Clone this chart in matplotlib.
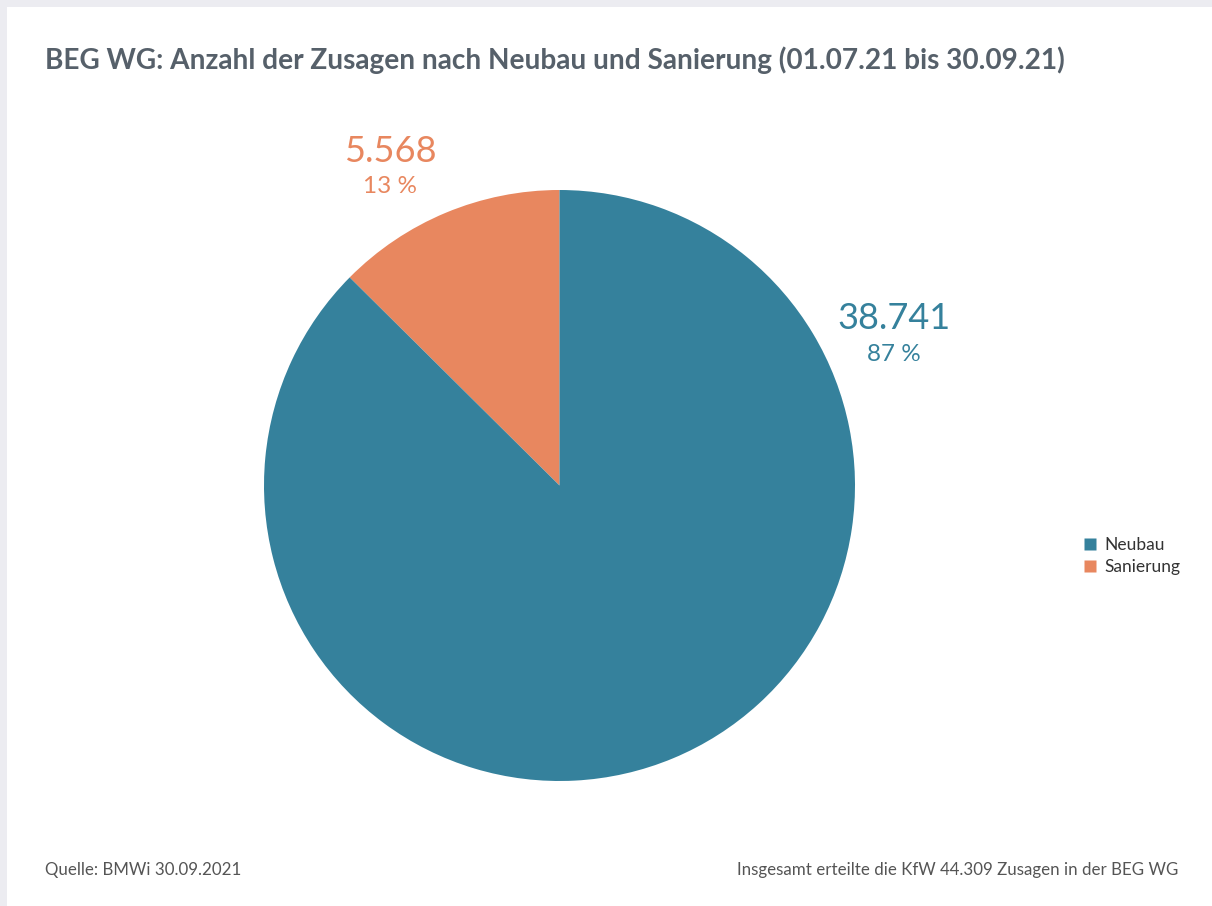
import matplotlib
matplotlib.use("Agg")
import matplotlib.pyplot as plt
from matplotlib.patches import Rectangle
from matplotlib.lines import Line2D

# data
categories = ["Neubau", "Sanierung"]
counts = [38741, 5568]
percent_labels = ["87 %", "13 %"]
count_labels = ["38.741", "5.568"]
colors = ["#35819c", "#e8875f"]

TITLE = "BEG WG: Anzahl der Zusagen nach Neubau und Sanierung (01.07.21 bis 30.09.21)"
SOURCE = "Quelle: BMWi 30.09.2021"
NOTE = "Insgesamt erteilte die KfW 44.309 Zusagen in der BEG WG"

plt.rcParams["font.family"] = ["Lato", "DejaVu Sans"]

W, H = 1212, 906
fig = plt.figure(figsize=(W / 100, H / 100), dpi=100)
fig.patch.set_facecolor("#ececf1")
fig.patches.append(Rectangle((7 / W, 0), 1, 1 - 7 / H, transform=fig.transFigure,
                             facecolor="white", edgecolor="none", zorder=-10))

# pie axes: circle from x 264..855, y 190..781 (pixels)
ax = fig.add_axes([264 / W, (H - 781) / H, 591 / W, 591 / H])
ax.set_facecolor("none")

# Sanierung first so it starts at 12 o'clock going to the upper left
order = [1, 0]
wedges, _ = ax.pie([counts[i] for i in order], colors=[colors[i] for i in order],
                   startangle=90, counterclock=True, radius=1,
                   wedgeprops=dict(linewidth=0))
ax.set_xlim(-1, 1)
ax.set_ylim(-1, 1)
ax.set_aspect("equal")
ax.axis("off")

# value labels
label_pos = {0: (1.132, 0.565, 0.445), 1: (-0.574, 1.129, 1.013)}
for i in range(len(categories)):
    x, y1, y2 = label_pos[i]
    ax.text(x, y1, count_labels[i], color=colors[i], fontsize=26, fontweight="normal",
            ha="center", va="center", clip_on=False)
    ax.text(x, y2, percent_labels[i], color=colors[i], fontsize=17.5, fontweight="normal",
            ha="center", va="center", clip_on=False)

fig.text(45 / W, 1 - 60 / H, TITLE, fontsize=20.2, fontweight="bold", color="#56606a",
         ha="left", va="center")

handles = [Line2D([], [], marker="s", linestyle="none", markersize=8,
                  markerfacecolor=c, markeredgecolor="none") for c in colors]
fig.legend(handles, categories, loc="center left", bbox_to_anchor=(1066 / W, 1 - 556 / H),
           frameon=False, fontsize=12.5, handletextpad=0.3, labelspacing=0.3,
           handlelength=1.0, labelcolor="#333333")

fig.text(45 / W, 1 - 870 / H, SOURCE, fontsize=12.2, color="#555555", ha="left", va="center")
fig.text(1178 / W, 1 - 870 / H, NOTE, fontsize=12.2, color="#555555", ha="right", va="center")

fig.savefig("out.png", dpi=100, facecolor=fig.get_facecolor())
